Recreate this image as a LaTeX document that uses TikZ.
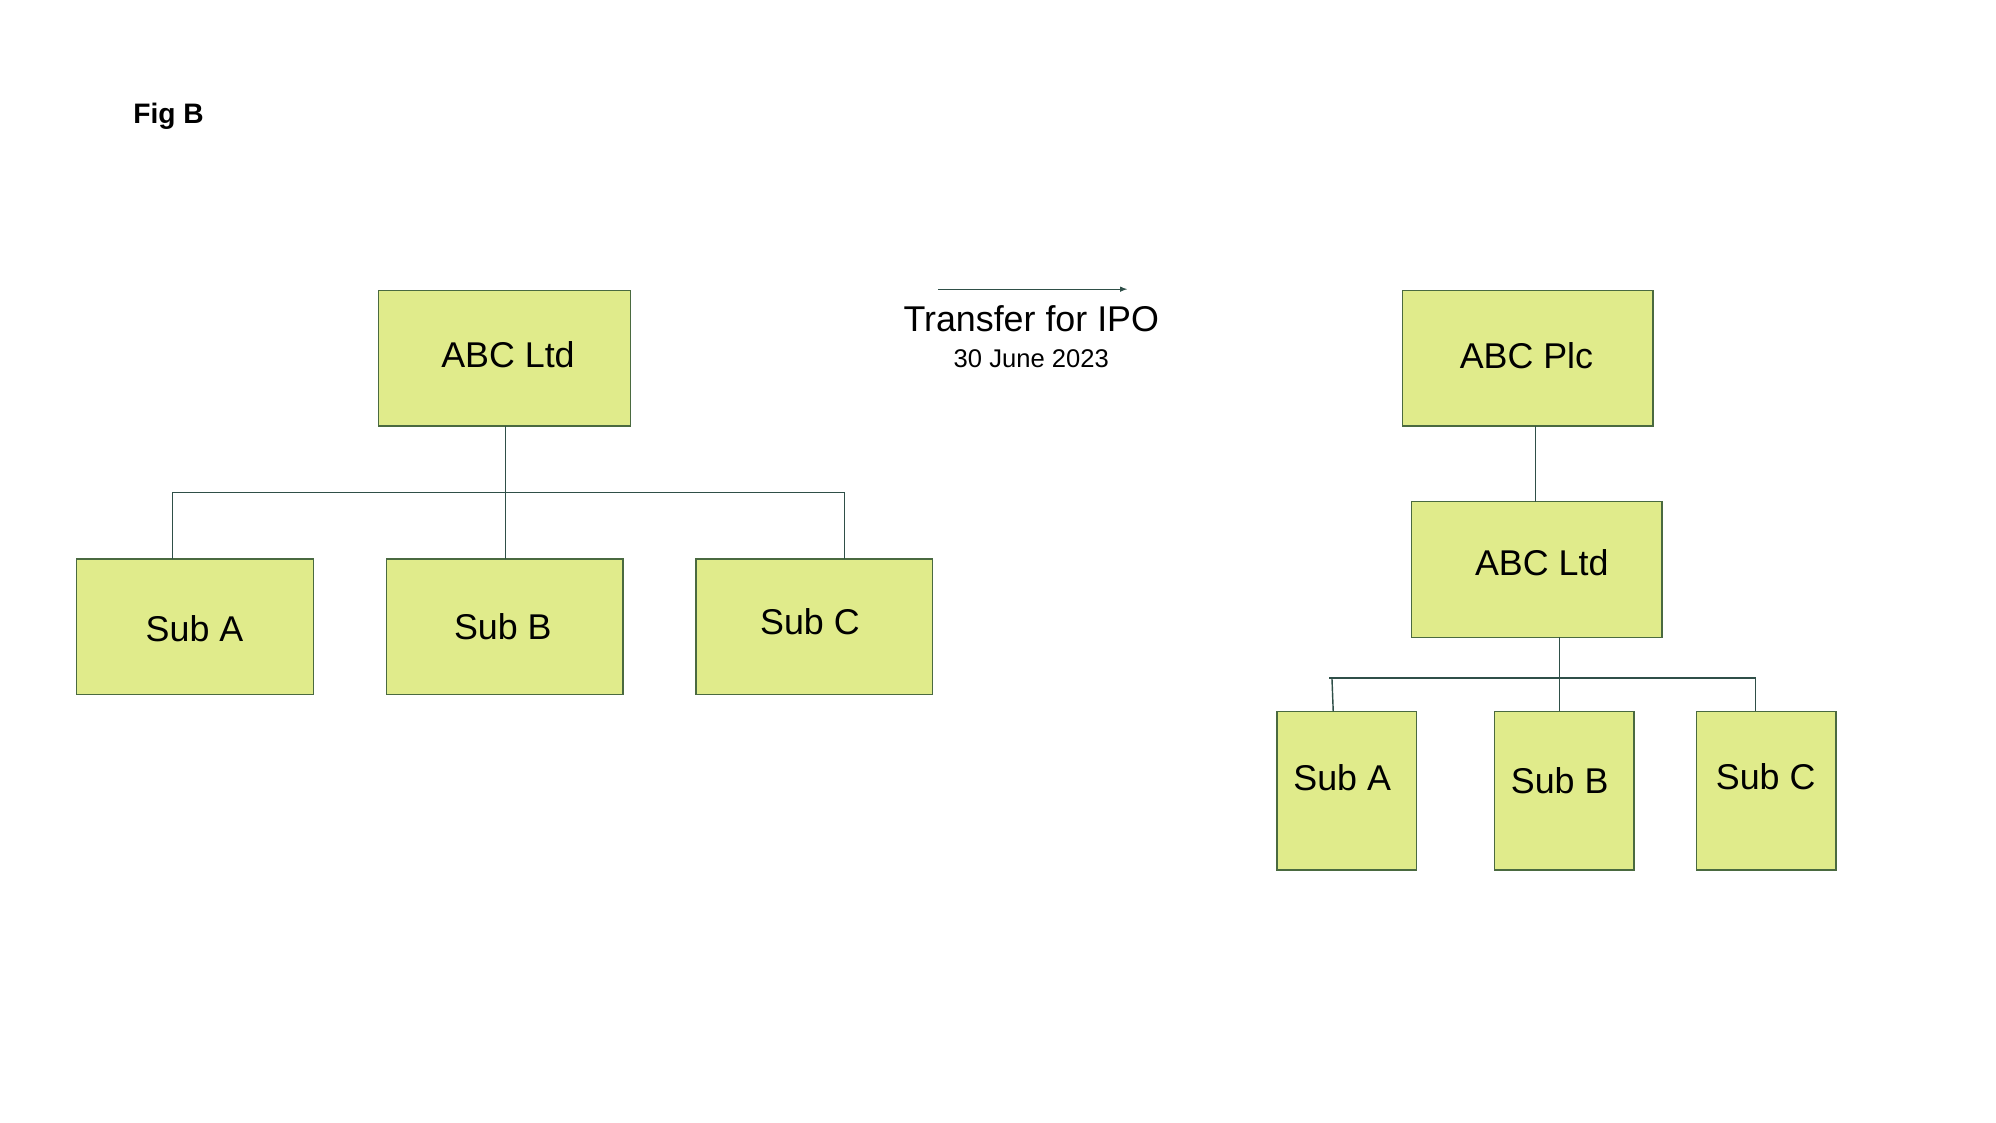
\documentclass[tikz,border=0pt]{standalone}
\usepackage{fontspec}
\setmainfont{Liberation Sans}
\begin{document}
\begin{tikzpicture}[x=1pt,y=-1pt,
  box/.style={draw=boxline,fill=boxfill,line width=1pt},
  lbl/.style={font=\fontsize{28}{32}\selectfont,inner sep=0pt,anchor=center},
  conn/.style={draw=conncol,line width=1.1pt}]
\definecolor{boxfill}{HTML}{E0EB8B}
\definecolor{boxline}{HTML}{4A6A40}
\definecolor{conncol}{HTML}{2F4F48}
\useasboundingbox (0,0) rectangle (1560,877);
\node[anchor=west,font=\bfseries\fontsize{22}{26}\selectfont,inner sep=0pt] (fig) at (104,91) {Fig B};
% left
\draw[box] (296,227) rectangle (493,333); \node[lbl] (lt) at (397,277) {ABC Ltd};
\draw[box] (60,437) rectangle (245,543); \node[lbl] (la) at (152,491) {Sub A};
\draw[box] (302,437) rectangle (487,543); \node[lbl] (lb) at (393,490) {Sub B};
\draw[box] (544,437) rectangle (729,543); \node[lbl] (lc) at (633,486) {Sub C};
\coordinate (t1) at (395,333); \coordinate (t2) at (395,437);
\coordinate (b1) at (135,385); \coordinate (b2) at (660,385);
\coordinate (a1) at (135,437); \coordinate (c1) at (660,437);
\draw[conn] (t1) -- (t2);
\draw[conn] (a1) -- (b1) -- (b2) -- (c1);
% arrow
\coordinate (ar1) at (733,226); \coordinate (ar2) at (881,226);
\draw[conn,line width=0.9pt,-{latex}] (ar1) -- (ar2);
\node[lbl] (tr) at (806,249) {Transfer for IPO};
\node[lbl,font=\fontsize{20}{24}\selectfont] (dt) at (806,280) {30 June 2023};
% right
\draw[box] (1096,227) rectangle (1292,333); \node[lbl] (rp) at (1193,278) {ABC Plc};
\draw[box] (1103,392) rectangle (1299,498); \node[lbl] (rl) at (1205,440) {ABC Ltd};
\draw[box] (998,556) rectangle (1107,680); \node[lbl] (ra) at (1049,608) {Sub A};
\draw[box] (1168,556) rectangle (1277,680); \node[lbl] (rb) at (1219,610) {Sub B};
\draw[box] (1326,556) rectangle (1435,680); \node[lbl] (rc) at (1380,607) {Sub C};
\coordinate (p1) at (1200,333); \coordinate (p2) at (1200,392);
\draw[conn] (p1) -- (p2);
\coordinate (q1) at (1219,498); \coordinate (q2) at (1219,556);
\draw[conn] (q1) -- (q2);
\coordinate (s1) at (1042,556); \coordinate (s2) at (1041,530);
\coordinate (s3) at (1372,530); \coordinate (s4) at (1372,556);
\draw[conn] (s1) -- (s2); \draw[conn] (1039,530) -- (s3) -- (s4);
\end{tikzpicture}
\end{document}
